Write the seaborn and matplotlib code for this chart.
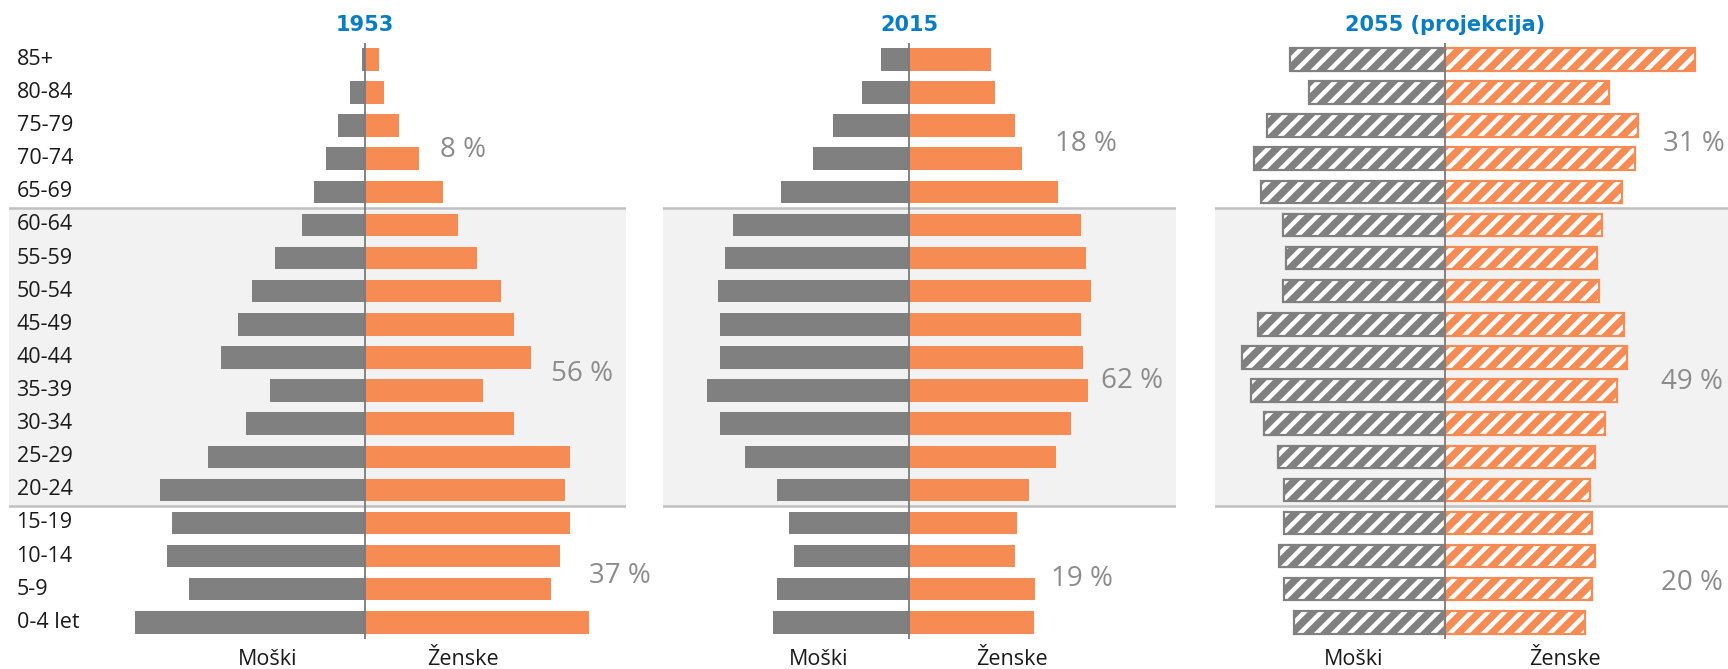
import numpy as np
import pandas as pd
import matplotlib
matplotlib.use("Agg")
import matplotlib.pyplot as plt
import matplotlib.transforms as mtransforms
import seaborn as sns

# age groups, top to bottom
ages = ["85+", "80-84", "75-79", "70-74", "65-69", "60-64", "55-59", "50-54",
        "45-49", "40-44", "35-39", "30-34", "25-29", "20-24", "15-19",
        "10-14", "5-9", "0-4 let"]

# bar lengths (relative units)
male_1953 = [2, 13, 24, 35, 46, 57, 81, 102, 115, 130, 86, 108, 142, 186, 175, 179, 159, 208]
female_1953 = [13, 18, 31, 49, 71, 85, 102, 124, 136, 151, 107, 136, 186, 182, 186, 177, 169, 204]

male_2015 = [25, 43, 69, 87, 116, 160, 167, 173, 171, 171, 183, 171, 149, 120, 109, 104, 120, 123]
female_2015 = [74, 78, 96, 102, 135, 156, 160, 165, 156, 158, 162, 147, 133, 109, 98, 96, 114, 113]

male_2055 = [140, 123, 161, 173, 167, 147, 144, 147, 169, 184, 176, 164, 151, 146, 146, 150, 146, 137]
female_2055 = [227, 149, 175, 173, 161, 143, 138, 140, 163, 165, 156, 145, 136, 132, 134, 136, 134, 127]

titles = ["1953", "2015", "2055 (projekcija)"]
shares = [["8 %", "56 %", "37 %"], ["18 %", "62 %", "19 %"], ["31 %", "49 %", "20 %"]]

GRAY = "#808080"
ORANGE = "#f68b54"
BLUE = "#0a7cc4"

sns.set_style("white")
plt.rcParams["font.family"] = ["Open Sans", "DejaVu Sans"]
plt.rcParams["hatch.linewidth"] = 3.2

fig = plt.figure(figsize=(17.28, 6.69), dpi=100)

panels = [
    dict(rect=[0.0051, 0.045, 0.357, 0.891], xlim=(-323, 237), male=male_1953, female=female_1953,
         share_pos=[(89, 2.75), (197, 9.5), (232, 15.6)], sex_x=(-88, 89), hatch=False, labels=True),
    dict(rect=[0.3837, 0.045, 0.2969, 0.891], xlim=(-223, 242), male=male_2015, female=female_2015,
         share_pos=[(160, 2.55), (202, 9.7), (157, 15.7)], sex_x=(-82, 93), hatch=False, labels=False),
    dict(rect=[0.7034, 0.045, 0.2966, 0.891], xlim=(-208, 257), male=male_2055, female=female_2055,
         share_pos=[(226, 2.55), (224, 9.75), (224, 15.8)], sex_x=(-83, 109), hatch=True, labels=False),
]

for p, title, share in zip(panels, titles, shares):
    ax = fig.add_axes(p["rect"])
    df = pd.DataFrame({"age": ages, "male": -np.array(p["male"]), "female": p["female"]})

    ax.axhspan(4.5, 13.5, color="#f2f2f2", zorder=0, lw=0)

    for col, c in [("male", GRAY), ("female", ORANGE)]:
        if p["hatch"]:
            sns.barplot(data=df, x=col, y="age", orient="h", color=c, saturation=1,
                        width=0.68, hatch="//", edgecolor="white", linewidth=0, ax=ax, zorder=2)
            sns.barplot(data=df, x=col, y="age", orient="h", color=c, saturation=1,
                        width=0.68, fill=False, linewidth=1.6, ax=ax, zorder=2)
        else:
            sns.barplot(data=df, x=col, y="age", orient="h", color=c, saturation=1,
                        width=0.68, linewidth=0, ax=ax, zorder=2)

    ax.axhline(4.5, color="#c0c0c0", lw=1.8, zorder=1)
    ax.axhline(13.5, color="#c0c0c0", lw=1.8, zorder=1)
    ax.axvline(0, color="#7a7a7a", lw=1.3, zorder=3)

    ax.set_xlim(*p["xlim"])
    ax.set_ylim(17.5, -0.5)
    ax.set_axis_off()

    trans = mtransforms.blended_transform_factory(ax.transData, ax.transAxes)
    ax.text(0, 1.03, title, transform=trans, ha="center", va="center",
            fontsize=15, fontweight="bold", color=BLUE, family=["DejaVu Sans"])
    ax.text(p["sex_x"][0], -0.034, "Moški", transform=trans, ha="center", va="center",
            fontsize=15.5, color="#1a1a1a")
    ax.text(p["sex_x"][1], -0.034, "Ženske", transform=trans, ha="center", va="center",
            fontsize=15.5, color="#1a1a1a")

    for s, (sx, sy) in zip(share, p["share_pos"]):
        ax.text(sx, sy, s, ha="center", va="center", fontsize=20, color="#8c8c8c")

    if p["labels"]:
        for i, a in enumerate(ages):
            ax.text(-316, i, a, ha="left", va="center", fontsize=15.5, color="#1a1a1a")

fig.savefig("out.png", dpi=100)
